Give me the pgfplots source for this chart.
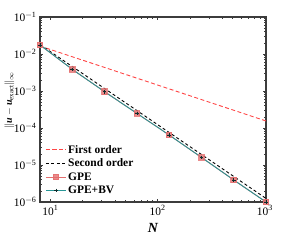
\documentclass[border=0pt]{standalone}
\usepackage{fontspec}
\setmainfont{Liberation Serif}
\usepackage{pgfplots}
\pgfplotsset{compat=1.18}
\definecolor{firstc}{RGB}{255,70,70}
\definecolor{gpec}{RGB}{228,110,110}
\definecolor{bvc}{RGB}{40,150,150}
\definecolor{axc}{RGB}{60,60,60}
\begin{document}
\begin{tikzpicture}
\useasboundingbox (0,0) rectangle (295bp,240bp);
\begin{axis}[
  at={(40bp,38bp)}, anchor=south west,
  scale only axis, width=226bp, height=185bp,
  xmode=log, ymode=log,
  xmin=8, xmax=1024, ymin=1e-6, ymax=1e-1,
  axis line style={draw=axc, line width=1.3pt},
  tick style={axc, line width=0.6pt},
  major tick length=3bp, minor tick length=1.8bp,
  tick align=inside,
  xtick={10,100,1000},
  xticklabels={$\mathrm{10}^{\mathrm{1}}$,$\mathrm{10}^{\mathrm{2}}$,$\mathrm{10}^{\mathrm{3}}$},
  ytick={1e-6,1e-5,1e-4,1e-3,1e-2,1e-1},
  yticklabels={$\mathrm{10}^{-\mathrm{6}}$,$\mathrm{10}^{-\mathrm{5}}$,$\mathrm{10}^{-\mathrm{4}}$,$\mathrm{10}^{-\mathrm{3}}$,$\mathrm{10}^{-\mathrm{2}}$,$\mathrm{10}^{-\mathrm{1}}$},
  tick label style={font=\fontsize{11.5}{13}\selectfont},
  xlabel={\textbf{\textit{N}}},
  ylabel={$\|\textbf{\textit{u}}-\textbf{\textit{u}}_{\mathrm{exact}}\|_\infty$},
  ylabel style={font=\fontsize{16.5}{19}\selectfont},
  every axis x label/.style={at={(axis description cs:0.5,-0.14)}, anchor=center, font=\fontsize{14}{16}\selectfont},
  every axis y label/.style={at={(axis description cs:-0.135,0.55)}, anchor=center, rotate=90},
  legend style={at={(0.01,0.015)}, anchor=south west, draw=none, fill=none,
    font=\fontsize{11.5}{13}\bfseries\selectfont, row sep=0.3bp},
  legend cell align=left,
  legend image code/.code={\draw[mark repeat=2,mark phase=2,#1] plot coordinates {(0cm,0cm) (0.35cm,0cm) (0.7cm,0cm)};},
]
\addplot[firstc, line width=0.9pt, dash pattern=on 4bp off 2.5bp] coordinates {(8,0.0164) (1024,1.55e-4)};
\addlegendentry{First order}
\addplot[black, line width=0.9pt, dash pattern=on 3bp off 2.5bp] coordinates {(8,0.018) (1024,1.25e-6)};
\addlegendentry{Second order}
\addplot[gpec, line width=0.9pt, mark=square*, mark size=2.8bp, mark options={fill=gpec, draw=gpec, opacity=0.8}] coordinates {
(8,0.0175)(16,3.85e-3)(32,9.57e-4)(64,2.49e-4)(128,6.47e-5)(256,1.61e-5)(512,3.94e-6)(1024,1.0e-6)};
\addlegendentry{GPE}
\addplot[bvc, line width=0.9pt, mark=+, mark size=1.8bp, mark options={draw=black!70!bvc, line width=0.6pt}] coordinates {
(8,0.0175)(16,3.85e-3)(32,9.57e-4)(64,2.49e-4)(128,6.47e-5)(256,1.61e-5)(512,3.94e-6)(1024,1.0e-6)};
\addlegendentry{GPE+BV}
\end{axis}
\end{tikzpicture}
\end{document}
